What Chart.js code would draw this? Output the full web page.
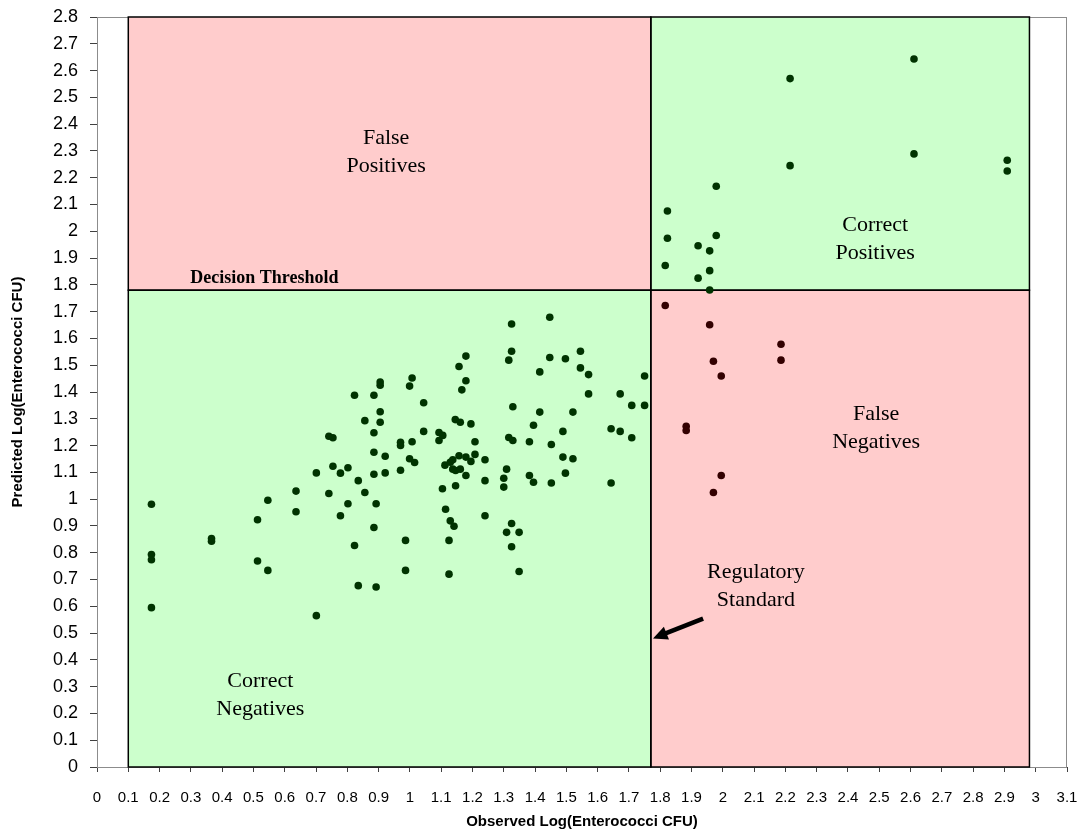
<!DOCTYPE html>
<html>
<head>
<meta charset="utf-8">
<title>Observed vs Predicted Enterococci</title>
<script src="https://cdn.jsdelivr.net/npm/chart.js@4.4.0/dist/chart.umd.min.js"></script>
<style>
  html, body { margin: 0; padding: 0; background: #fff; }
</style>
</head>
<body>
<canvas id="chart" width="1079" height="834"></canvas>
<script>
// observed / predicted log values, correct negatives
const cnX = [0.174, 0.174, 0.174, 0.174, 0.366, 0.366, 0.513, 0.513, 0.546, 0.546,
  0.636, 0.636, 0.701, 0.701, 0.741, 0.741, 0.754, 0.754, 0.778, 0.778,
  0.802, 0.802, 0.823, 0.823, 0.835, 0.835, 0.856, 0.856, 0.885, 0.885,
  0.885, 0.885, 0.885, 0.892, 0.892, 0.905, 0.905, 0.905, 0.905, 0.921,
  0.921, 0.970, 0.970, 0.970, 0.986, 0.986, 0.999, 0.999, 1.007, 1.007,
  1.015, 1.044, 1.044, 1.093, 1.093, 1.104, 1.105, 1.112, 1.114, 1.125,
  1.125, 1.129, 1.129, 1.137, 1.137, 1.141, 1.145, 1.146, 1.146, 1.157,
  1.157, 1.161, 1.161, 1.166, 1.179, 1.179, 1.179, 1.179, 1.195, 1.195,
  1.208, 1.208, 1.240, 1.240, 1.240, 1.300, 1.300, 1.309, 1.309, 1.316,
  1.316, 1.325, 1.325, 1.325, 1.325, 1.329, 1.329, 1.349, 1.349, 1.382,
  1.382, 1.395, 1.395, 1.415, 1.415, 1.447, 1.447, 1.452, 1.452, 1.489,
  1.489, 1.497, 1.497, 1.521, 1.521, 1.545, 1.545, 1.571, 1.571, 1.643,
  1.643, 1.672, 1.672, 1.709, 1.709, 1.750, 1.750];
const cnY = [0.981, 0.793, 0.774, 0.595, 0.843, 0.853, 0.923, 0.769, 0.996, 0.734,
  1.030, 0.953, 1.098, 0.565, 1.021, 1.235, 1.229, 1.123, 1.097, 0.938,
  1.117, 0.983, 1.388, 0.827, 1.069, 0.677, 1.293, 1.025, 1.388, 1.248,
  1.175, 1.093, 0.894, 0.983, 0.672, 1.425, 1.437, 1.326, 1.287, 1.160,
  1.098, 1.212, 1.200, 1.108, 0.846, 0.734, 1.422, 1.151, 1.452, 1.214,
  1.137, 1.360, 1.253, 1.249, 1.219, 1.039, 1.238, 1.127, 0.962, 0.846,
  0.720, 1.138, 0.919, 1.147, 1.112, 0.899, 1.297, 1.107, 1.050, 1.495,
  1.162, 1.287, 1.112, 1.408, 1.534, 1.442, 1.157, 1.088, 1.281, 1.141,
  1.214, 1.167, 1.147, 1.069, 0.938, 1.078, 1.045, 1.112, 0.876, 1.519,
  1.230, 1.654, 1.552, 0.909, 0.822, 1.345, 1.219, 0.876, 0.730, 1.214,
  1.088, 1.276, 1.063, 1.475, 1.325, 1.679, 1.529, 1.204, 1.060, 1.253,
  1.157, 1.524, 1.097, 1.325, 1.151, 1.552, 1.490, 1.465, 1.393, 1.263,
  1.060, 1.393, 1.253, 1.350, 1.229, 1.460, 1.350];

// correct positives
const cpX = [1.816, 1.823, 1.823, 1.921, 1.921, 1.958, 1.958, 1.958, 1.979, 1.979,
  2.215, 2.215, 2.611, 2.611, 2.909, 2.909];
const cpY = [1.872, 2.076, 1.974, 1.946, 1.825, 1.927, 1.853, 1.781, 2.168, 1.984,
  2.570, 2.245, 2.643, 2.289, 2.265, 2.225];

// false negatives
const fnX = [1.816, 1.958, 1.970, 1.995, 2.186, 2.186, 1.883, 1.883, 1.995, 1.970];
const fnY = [1.723, 1.651, 1.515, 1.460, 1.578, 1.519, 1.272, 1.256, 1.088, 1.025];

// limits
const regulatoryStandard = 1.77;
const decisionThreshold = 1.78;
const boxX = [0.1, 2.98];
const boxY = [0, 2.8];

const toPoints = (xs, ys) => xs.map((v, i) => ({ x: v, y: ys[i] }));
const fmt = v => String(+Number(v).toFixed(1));

// quadrant labels (data coordinates)
const labels = [
  { text: ['False', 'Positives'], x: 0.924, y: 2.296 },
  { text: ['Correct', 'Positives'], x: 2.487, y: 1.97 },
  { text: ['False', 'Negatives'], x: 2.49, y: 1.263 },
  { text: ['Correct', 'Negatives'], x: 0.522, y: 0.267 },
  { text: ['Regulatory', 'Standard'], x: 2.106, y: 0.676 }
];

const quadrants = {
  id: 'quadrants',
  beforeDatasetsDraw(chart) {
    const { ctx, chartArea: a, scales: { x, y } } = chart;
    ctx.save();
    ctx.strokeStyle = '#8c8c8c';
    ctx.lineWidth = 1;
    ctx.strokeRect(a.left + 0.5, a.top + 0.5, a.width - 1, a.height);

    const rx = [boxX[0], regulatoryStandard, boxX[1]].map(v => x.getPixelForValue(v));
    const ry = [boxY[1], decisionThreshold, boxY[0]].map(v => y.getPixelForValue(v));
    const cells = [
      [0, 0, '#ffcccc'], [1, 0, '#ccffcc'],
      [0, 1, '#ccffcc'], [1, 1, '#ffcccc']
    ];
    cells.forEach(([i, j, c]) => {
      ctx.fillStyle = c;
      ctx.fillRect(rx[i], ry[j], rx[i + 1] - rx[i], ry[j + 1] - ry[j]);
    });
    ctx.strokeStyle = '#000';
    ctx.lineWidth = 1.5;
    cells.forEach(([i, j]) => {
      ctx.strokeRect(rx[i], ry[j], rx[i + 1] - rx[i], ry[j + 1] - ry[j]);
    });

    ctx.fillStyle = '#000';
    ctx.textAlign = 'center';
    ctx.textBaseline = 'middle';
    ctx.font = '22px "Liberation Serif", "Times New Roman", serif';
    labels.forEach(l => {
      const px = x.getPixelForValue(l.x), py = y.getPixelForValue(l.y);
      ctx.fillText(l.text[0], px, py - 14);
      ctx.fillText(l.text[1], px, py + 14);
    });

    ctx.font = 'bold 18px "Liberation Serif", "Times New Roman", serif';
    ctx.textAlign = 'left';
    ctx.fillText('Decision Threshold', x.getPixelForValue(0.298), y.getPixelForValue(1.823));
    ctx.restore();
  },
  afterDatasetsDraw(chart) {
    const { ctx, scales: { x, y } } = chart;
    const x0 = x.getPixelForValue(1.937), y0 = y.getPixelForValue(0.554);
    const x1 = x.getPixelForValue(1.777), y1 = y.getPixelForValue(0.48);
    const ang = Math.atan2(y1 - y0, x1 - x0);
    const head = 16;
    ctx.save();
    ctx.strokeStyle = '#000';
    ctx.fillStyle = '#000';
    ctx.lineWidth = 4.5;
    ctx.beginPath();
    ctx.moveTo(x0, y0);
    ctx.lineTo(x1 - Math.cos(ang) * head * 0.8, y1 - Math.sin(ang) * head * 0.8);
    ctx.stroke();
    ctx.beginPath();
    ctx.moveTo(x1, y1);
    ctx.lineTo(x1 - head * Math.cos(ang - 0.45), y1 - head * Math.sin(ang - 0.45));
    ctx.lineTo(x1 - head * Math.cos(ang + 0.45), y1 - head * Math.sin(ang + 0.45));
    ctx.closePath();
    ctx.fill();
    ctx.restore();
  }
};

const axisFont = '"Liberation Sans", Arial, sans-serif';

new Chart(document.getElementById('chart'), {
  type: 'scatter',
  data: {
    datasets: [
      { label: 'Correct Negatives', data: toPoints(cnX, cnY), backgroundColor: '#003300', borderColor: '#003300' },
      { label: 'Correct Positives', data: toPoints(cpX, cpY), backgroundColor: '#003300', borderColor: '#003300' },
      { label: 'False Negatives', data: toPoints(fnX, fnY), backgroundColor: '#330000', borderColor: '#330000' }
    ]
  },
  options: {
    responsive: false,
    animation: false,
    devicePixelRatio: 1,
    layout: { padding: { top: 17, right: 12, bottom: 0, left: 0 } },
    elements: { point: { radius: 3.8, borderWidth: 0, pointStyle: 'circle' } },
    plugins: { legend: { display: false }, tooltip: { enabled: false } },
    scales: {
      x: {
        type: 'linear',
        min: 0,
        max: 3.1,
        afterFit: s => { s.height = 67; s.paddingLeft = 0; s.paddingRight = 0; },
        border: { display: true, color: '#404040', width: 1 },
        grid: { drawOnChartArea: false, drawTicks: true, tickLength: 5, color: '#404040' },
        ticks: {
          stepSize: 0.1, autoSkip: false, maxRotation: 0, padding: 17,
          color: '#000', font: { family: axisFont, size: 15 },
          callback: fmt
        },
        title: {
          display: true, text: 'Observed Log(Enterococci CFU)', color: '#000',
          font: { family: axisFont, size: 15, weight: 'bold' }, padding: { top: 0, bottom: 3 }
        }
      },
      y: {
        type: 'linear',
        min: 0,
        max: 2.8,
        afterFit: s => { s.width = 97; s.paddingTop = 0; s.paddingBottom = 0; },
        border: { display: true, color: '#404040', width: 1 },
        grid: { drawOnChartArea: false, drawTicks: true, tickLength: 7, color: '#404040' },
        ticks: {
          stepSize: 0.1, autoSkip: false, padding: 12,
          color: '#000', font: { family: axisFont, size: 18 },
          callback: fmt
        },
        title: {
          display: true, text: 'Predicted Log(Enterococci CFU)', color: '#000',
          font: { family: axisFont, size: 15, weight: 'bold' }, padding: { top: 9, bottom: 0 }
        }
      }
    }
  },
  plugins: [quadrants]
});
</script>
</body>
</html>
